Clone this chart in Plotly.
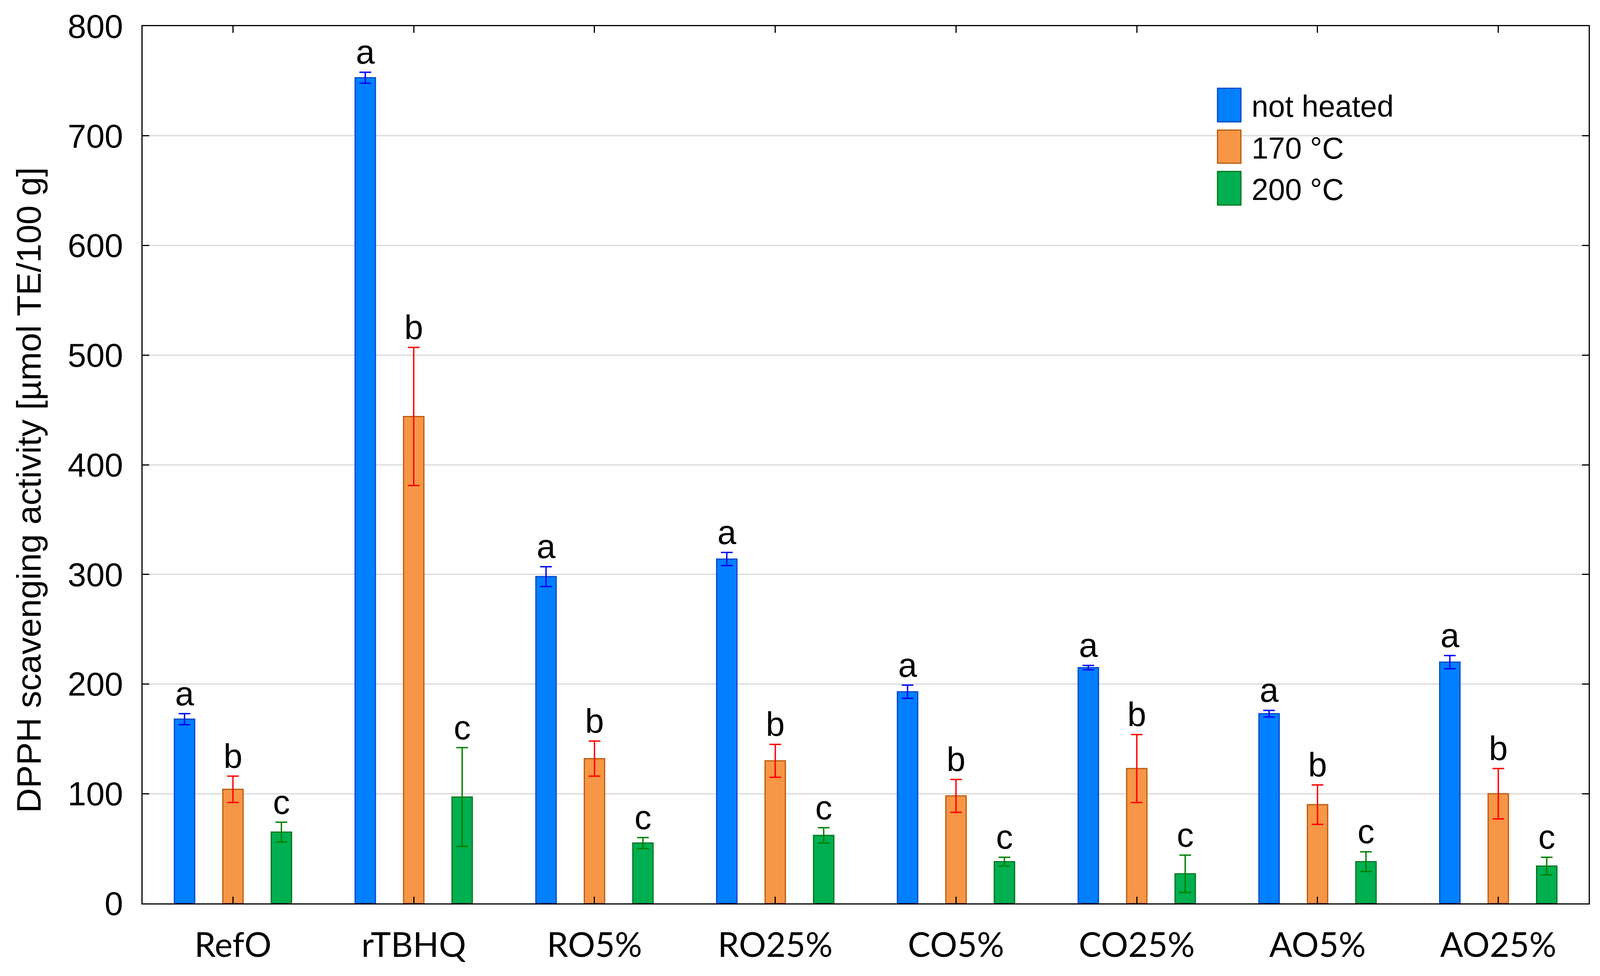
import plotly.graph_objects as go

# ---------------- data ----------------
categories = ["RefO", "rTBHQ", "RO5%", "RO25%", "CO5%", "CO25%", "AO5%", "AO25%"]
series_names = ["not heated", "170 °C", "200 °C"]

not_heated = [168, 753, 298, 314, 193, 215, 173, 220]
not_heated_err = [5, 5, 9, 6, 6, 2, 3, 6]
heated_170 = [104, 444, 132, 130, 98, 123, 90, 100]
heated_170_err = [12, 63, 16, 15, 15, 31, 18, 23]
heated_200 = [65, 97, 55, 62, 38, 27, 38, 34]
heated_200_err = [9, 45, 5, 7, 4, 17, 9, 8]

letters_not_heated = ["a"] * 8
letters_170 = ["b"] * 8
letters_200 = ["c"] * 8

y_ticks = [0, 100, 200, 300, 400, 500, 600, 700, 800]

# ---------------- style ----------------
BODY = 8                       # default page margin around the plot div
VIEW_W, VIEW_H = 4096, 2499    # visible page area
REF_W = 4175
FX = VIEW_W / REF_W            # horizontal fit factor

W, H = VIEW_W - 2 * BODY, VIEW_H - 2 * BODY


def sx(p):
    """reference x pixel -> screen x pixel"""
    return p * FX


SL, ST, SR, SB = sx(372), 67, sx(4145), 2313   # plot area in screen pixels
ML, MT = round(SL - BODY), ST - BODY
MR, MB = round((W + BODY) - SR), (H + BODY) - SB
SL, SR = ML + BODY, W + BODY - MR
PW, PH = SR - SL, SB - ST

fills = ["#0080FF", "#F79646", "#00AF50"]
borders = ["#0047C8", "#B85A0E", "#00751E"]
err_colors = ["#0000FF", "#FF0000", "#008000"]
offsets = [-0.268, 0.0, 0.268]
bar_w = 0.1125

values = [not_heated, heated_170, heated_200]
errors = [not_heated_err, heated_170_err, heated_200_err]
letters = [letters_not_heated, letters_170, letters_200]

fig = go.Figure()
for k in range(3):
    xs = [i + offsets[k] for i in range(len(categories))]
    fig.add_trace(go.Bar(
        x=xs, y=values[k], width=bar_w, name=series_names[k],
        marker=dict(color=fills[k], line=dict(color=borders[k], width=3)),
        error_y=dict(type="data", array=errors[k], visible=True,
                     color=err_colors[k], thickness=3.5, width=15),
        showlegend=False,
    ))
for k in range(3):
    xs = [i + offsets[k] for i in range(len(categories))]
    tops = [v + e for v, e in zip(values[k], errors[k])]
    fig.add_trace(go.Scatter(
        x=xs, y=tops, mode="text", text=letters[k], textposition="top center",
        textfont=dict(family="Liberation Sans, Arial", size=87, color="black"),
        showlegend=False, cliponaxis=False, hoverinfo="skip",
    ))


def px_x(p):
    return (sx(p) - SL) / PW


def px_y(p):
    return (SB - p) / PH


# custom legend (shapes + text), positions in reference pixels
sw_x0, sw_x1 = 3177, 3238
sw_rows = [(226, 312), (333, 418), (439, 525)]
shapes = []
annotations = []
for k, (y0, y1) in enumerate(sw_rows):
    shapes.append(dict(type="rect", xref="paper", yref="paper",
                       x0=px_x(sw_x0), x1=px_x(sw_x1), y0=px_y(y1), y1=px_y(y0),
                       fillcolor=fills[k], line=dict(color=borders[k], width=3)))
    annotations.append(dict(xref="paper", yref="paper", x=px_x(3264),
                            y=px_y((y0 + y1) / 2 + 3), xanchor="left", yanchor="middle",
                            text=series_names[k], showarrow=False,
                            font=dict(family="Liberation Sans, Arial", size=77, color="black")))

annotations.append(dict(xref="paper", yref="paper", x=px_x(74), y=px_y(1255),
                        xanchor="center", yanchor="middle", textangle=-90,
                        text="DPPH scavenging activity [µmol TE/100 g]", showarrow=False,
                        font=dict(family="Liberation Sans, Arial", size=88, color="black")))

fig.update_layout(
    width=W, height=H,
    margin=dict(l=ML, r=MR, t=MT, b=MB, pad=0),
    paper_bgcolor="white", plot_bgcolor="white",
    barmode="overlay",
    showlegend=False,
    shapes=shapes, annotations=annotations,
    xaxis=dict(range=[-0.5, 7.5], tickmode="array", tickvals=list(range(len(categories))),
               ticktext=categories, ticks="inside", ticklen=17, tickwidth=3, tickcolor="black",
               showline=True, linecolor="black", linewidth=3, mirror="ticks",
               showgrid=False, zeroline=False, ticklabelstandoff=30,
               tickfont=dict(family="Lato", size=87, color="black")),
    yaxis=dict(range=[0, 800], tickmode="array", tickvals=y_ticks,
               ticks="inside", ticklen=17, tickwidth=3, tickcolor="black",
               showline=True, linecolor="black", linewidth=3, mirror="ticks",
               showgrid=True, gridcolor="#D9D9D9", gridwidth=3, zeroline=False,
               ticklabelstandoff=30,
               tickfont=dict(family="Liberation Sans, Arial", size=85, color="black")),
)

fig.write_html("out.html")
